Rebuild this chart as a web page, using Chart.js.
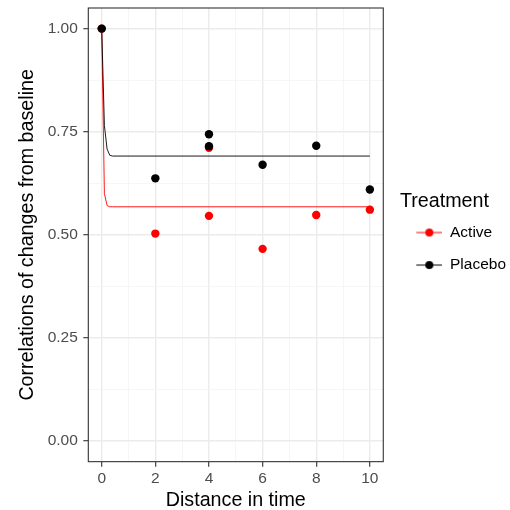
<!DOCTYPE html>
<html>
<head>
<meta charset="utf-8">
<script src="https://cdn.jsdelivr.net/npm/chart.js@4.4.0/dist/chart.umd.min.js"></script>
<style>
  html, body { margin: 0; padding: 0; background: #fff; }
  #wrap { width: 510px; height: 510px; }
</style>
</head>
<body>
<div id="wrap"><canvas id="myChart"></canvas></div>
<script>
// observed correlations by distance in time
var distance = [0, 2, 4, 4, 6, 8, 10];
var activeCorr = [1.00, 0.503, 0.546, 0.711, 0.466, 0.548, 0.561];
var placeboCorr = [1.00, 0.637, 0.744, 0.715, 0.670, 0.716, 0.610];

// fitted curves
var fitX = [0, 0.1, 0.2, 0.3, 0.4, 10];
var activeFit = [1.00, 0.600, 0.571, 0.568, 0.568, 0.568];
var placeboFit = [1.00, 0.765, 0.708, 0.693, 0.691, 0.691];

// axis ticks (majors get labels)
var xTicks = [0, 1, 2, 3, 4, 5, 6, 7, 8, 9, 10];
var xLabels = ['0', '', '2', '', '4', '', '6', '', '8', '', '10'];
var yTicks = [0, 0.125, 0.25, 0.375, 0.5, 0.625, 0.75, 0.875, 1];
var yLabels = ['0.00', '', '0.25', '', '0.50', '', '0.75', '', '1.00'];

var groups = ['Active', 'Placebo'];
var colors = ['#FF0000', '#000000'];

function pts(xs, ys) {
    return xs.map(function (x, i) { return {x: x, y: ys[i]}; });
}

// legend key: short line with a dot, with some blank room on the left
function keyIcon(color) {
    var c = document.createElement('canvas');
    c.width = 42; c.height = 10;
    var g = c.getContext('2d');
    g.strokeStyle = color; g.lineWidth = 1;
    g.beginPath(); g.moveTo(16, 5); g.lineTo(42, 5); g.stroke();
    g.fillStyle = color;
    g.beginPath(); g.arc(29, 5, 4, 0, Math.PI * 2); g.fill();
    return c;
}

var panelBorder = {
    id: 'panelBorder',
    afterDraw: function (chart) {
        var a = chart.chartArea, ctx = chart.ctx;
        ctx.save();
        ctx.strokeStyle = '#333333';
        ctx.lineWidth = 1.1;
        ctx.strokeRect(a.left, a.top, a.right - a.left, a.bottom - a.top);
        ctx.restore();
    }
};

Chart.defaults.font.family = "'Liberation Sans', Arial, sans-serif";

function isMajor(labels, c) {
    return labels[c.index] !== '';
}

var ctx = document.getElementById('myChart').getContext('2d');
var myChart = new Chart(ctx, {
    type: 'scatter',
    data: {
        datasets: [
            { label: 'Placebo', data: pts(distance, placeboCorr), backgroundColor: colors[1], borderWidth: 0, pointRadius: 4.2, order: 1 },
            { label: 'Active', data: pts(distance, activeCorr), backgroundColor: colors[0], borderWidth: 0, pointRadius: 4.2, order: 2 },
            { label: 'Placebo fit', data: pts(fitX, placeboFit), showLine: true, borderColor: colors[1], borderWidth: 0.9, pointRadius: 0, order: 3 },
            { label: 'Active fit', data: pts(fitX, activeFit), showLine: true, borderColor: colors[0], borderWidth: 0.9, pointRadius: 0, order: 4 }
        ]
    },
    options: {
        responsive: true,
        maintainAspectRatio: false,
        animation: false,
        layout: { padding: { left: 16, right: 4.3, top: 8, bottom: 0 } },
        plugins: {
            tooltip: { enabled: false },
            legend: {
                position: 'right',
                align: 'start',
                title: { display: true, text: 'Treatment', color: '#000', font: { size: 19.7, lineHeight: 0.8 }, padding: { top: 184, bottom: 0 } },
                labels: {
                    usePointStyle: true,
                    pointStyleWidth: 42,
                    padding: 17,
                    color: '#000',
                    font: { size: 15.5 },
                    generateLabels: function () {
                        return groups.map(function (g, i) {
                            return { text: g, pointStyle: keyIcon(colors[i]), fillStyle: colors[i], strokeStyle: colors[i], lineWidth: 0, fontColor: '#000' };
                        });
                    }
                }
            }
        },
        scales: {
            x: {
                type: 'linear',
                min: -0.5,
                max: 10.5,
                afterBuildTicks: function (scale) { scale.ticks = xTicks.map(function (v) { return {value: v}; }); },
                ticks: {
                    autoSkip: false,
                    maxRotation: 0,
                    color: '#4D4D4D',
                    font: { size: 15.5, lineHeight: 1 },
                    padding: 4.7,
                    callback: function (v, i) { return xLabels[i]; }
                },
                grid: {
                    color: function (c) { return isMajor(xLabels, c) ? '#EBEBEB' : '#F4F4F4'; },
                    lineWidth: function (c) { return isMajor(xLabels, c) ? 1.4 : 0.8; },
                    tickColor: function (c) { return isMajor(xLabels, c) ? '#333333' : 'rgba(0,0,0,0)'; },
                    tickLength: 5,
                    tickWidth: 1.1
                },
                border: { display: false },
                title: { display: true, text: 'Distance in time', color: '#000', font: { size: 19.7 }, padding: { top: -3.2, bottom: -2 } }
            },
            y: {
                type: 'linear',
                min: -0.05,
                max: 1.05,
                afterBuildTicks: function (scale) { scale.ticks = yTicks.map(function (v) { return {value: v}; }); },
                afterFit: function (scale) { scale.paddingTop = 0; },
                ticks: {
                    autoSkip: false,
                    color: '#4D4D4D',
                    font: { size: 15.5 },
                    padding: 5.5,
                    callback: function (v, i) { return yLabels[i]; }
                },
                grid: {
                    color: function (c) { return isMajor(yLabels, c) ? '#EBEBEB' : '#F4F4F4'; },
                    lineWidth: function (c) { return isMajor(yLabels, c) ? 1.4 : 0.8; },
                    tickColor: function (c) { return isMajor(yLabels, c) ? '#333333' : 'rgba(0,0,0,0)'; },
                    tickLength: 5,
                    tickWidth: 1.1
                },
                border: { display: false },
                title: { display: true, text: 'Correlations of changes from baseline', color: '#000', font: { size: 19.7 }, padding: { top: 0, bottom: 2.5 } }
            }
        }
    },
    plugins: [panelBorder]
});
</script>
</body>
</html>
